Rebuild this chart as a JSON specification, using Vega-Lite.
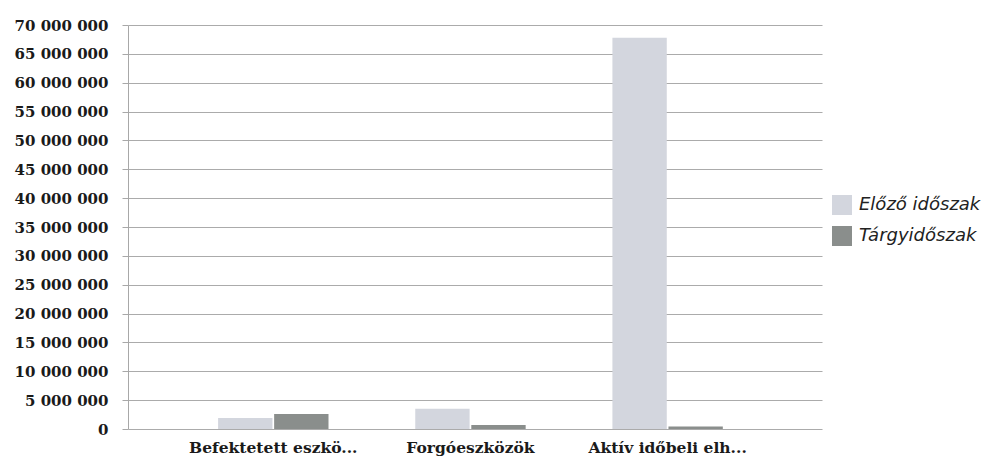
{
  "$schema": "https://vega.github.io/schema/vega-lite/v6.json",
  "autosize": {"type": "none"},
  "padding": {"left": 128, "top": 25, "right": 165, "bottom": 32},
  "width": 694,
  "height": 404,
  "background": "white",
  "data": {"values": [
    {"kategoria": "Befektetett eszkö...", "idoszak": "Előző időszak", "ertek": 1900000},
    {"kategoria": "Befektetett eszkö...", "idoszak": "Tárgyidőszak", "ertek": 2600000},
    {"kategoria": "Forgóeszközök", "idoszak": "Előző időszak", "ertek": 3500000},
    {"kategoria": "Forgóeszközök", "idoszak": "Tárgyidőszak", "ertek": 700000},
    {"kategoria": "Aktív időbeli elh...", "idoszak": "Előző időszak", "ertek": 67800000},
    {"kategoria": "Aktív időbeli elh...", "idoszak": "Tárgyidőszak", "ertek": 450000}
  ]},
  "mark": {"type": "bar"},
  "encoding": {
    "x": {
      "field": "kategoria", "type": "nominal",
      "sort": ["Befektetett eszkö...", "Forgóeszközök", "Aktív időbeli elh..."],
      "scale": {"paddingInner": 0.44, "paddingOuter": 0.48, "align": 0.476},
      "axis": {
        "title": null, "labelAngle": 0, "domain": false, "ticks": false,
        "labelFont": "DejaVu Serif", "labelFontWeight": "bold", "labelFontSize": 15.5,
        "labelColor": "#1a1a1a", "labelPadding": 11
      }
    },
    "xOffset": {"field": "idoszak", "type": "nominal", "sort": ["Előző időszak", "Tárgyidőszak"], "scale": {"paddingInner": 0.03}},
    "y": {
      "field": "ertek", "type": "quantitative",
      "scale": {"domain": [0, 70000000], "nice": false},
      "axis": {
        "title": null, "values": [0,5000000,10000000,15000000,20000000,25000000,30000000,35000000,40000000,45000000,50000000,55000000,60000000,65000000,70000000],
        "labelExpr": "replace(format(datum.value, ','), regexp(',', 'g'), ' ')",
        "labelFont": "DejaVu Serif", "labelFontWeight": "bold", "labelFontSize": 15,
        "labelColor": "#1a1a1a", "labelPadding": 14,
        "grid": true, "gridColor": "#ababab", "gridWidth": 1,
        "domainColor": "#a8a8a8", "tickColor": "#a8a8a8", "tickSize": 6
      }
    },
    "color": {
      "field": "idoszak", "type": "nominal",
      "sort": ["Előző időszak", "Tárgyidőszak"],
      "scale": {"domain": ["Előző időszak", "Tárgyidőszak"], "range": ["#d3d6de", "#8a8e8c"]},
      "legend": {
        "title": null, "orient": "none", "legendX": 704, "legendY": 170,
        "symbolType": "square", "symbolSize": 400, "symbolStrokeWidth": 0,
        "labelFont": "DejaVu Sans", "labelFontStyle": "italic", "labelFontSize": 18,
        "labelColor": "#222", "rowPadding": 11, "labelOffset": 7
      }
    }
  },
  "config": {"view": {"stroke": null}}
}
